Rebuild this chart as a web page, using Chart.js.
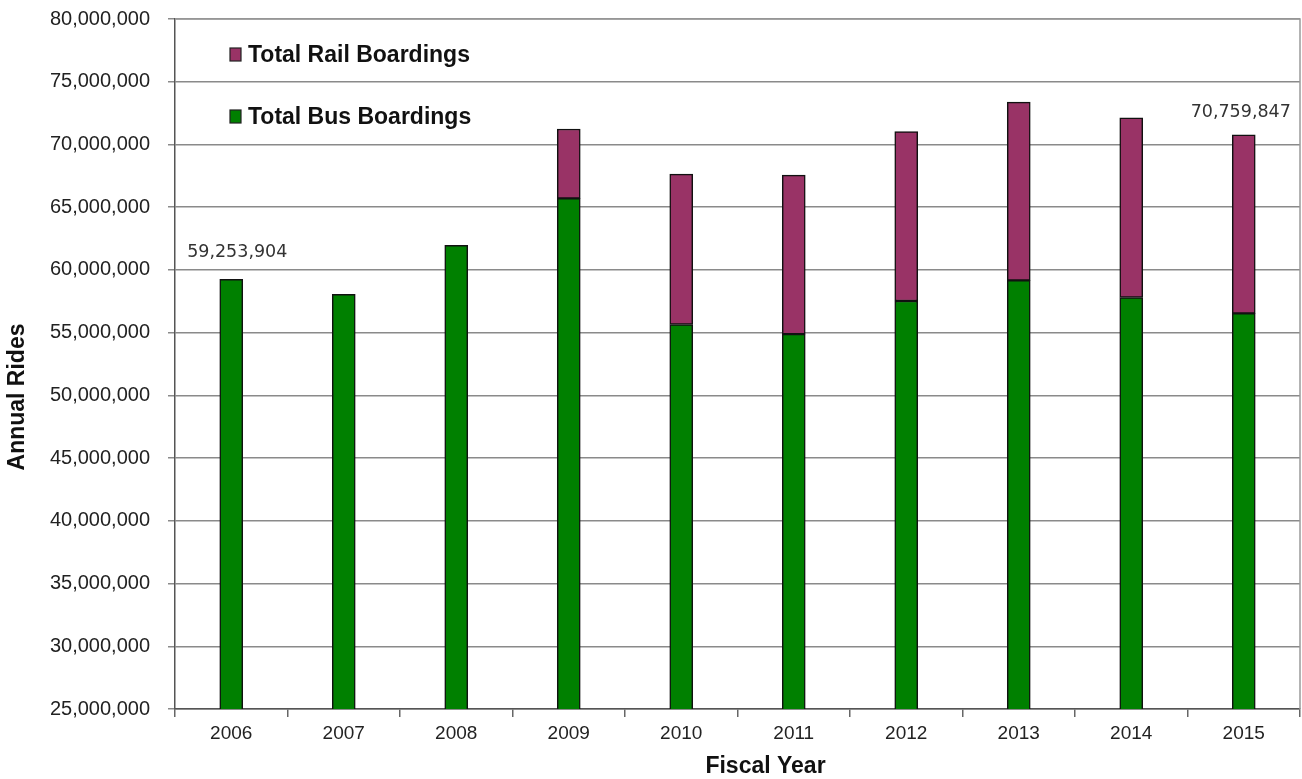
<!DOCTYPE html>
<html>
<head>
<meta charset="utf-8">
<script src="https://cdn.jsdelivr.net/npm/chart.js@4.4.1/dist/chart.umd.min.js"></script>
<style>
  html, body { margin: 0; padding: 0; background: #fff; }
  #wrap { width: 1302px; height: 779px; position: relative; }
</style>
</head>
<body>
<div id="wrap"><canvas id="c"></canvas></div>
<script>
const categories = ['2006','2007','2008','2009','2010','2011','2012','2013','2014','2015'];
const busBoardings  = [59253904, 58050000, 61950000, 65700000, 55650000, 54880000, 57520000, 59170000, 57800000, 56540000];
const railBoardings = [0, 0, 0, 5530000, 11990000, 12680000, 13500000, 14210000, 14330000, 14219847];
const labelledYears = ['2006', '2015'];
const yTicks = { min: 25000000, max: 80000000, step: 5000000 };
const xTitle = 'Fiscal Year';
const yTitle = 'Annual Rides';

const fmt = v => Math.round(v).toLocaleString('en-US');
const FONT = '"Liberation Sans", Arial, sans-serif';

const legendInside = {
  id: 'legendInside',
  afterDraw(chart) {
    const ctx = chart.ctx;
    const items = chart.data.datasets.slice().reverse();
    const x0 = 230, ys = [55, 117];
    ctx.save();
    items.forEach((ds, i) => {
      const y = ys[i];
      ctx.fillStyle = ds.backgroundColor;
      ctx.strokeStyle = '#222';
      ctx.lineWidth = 1.2;
      ctx.fillRect(x0, y - 7, 11, 13);
      ctx.strokeRect(x0, y - 7, 11, 13);
      ctx.fillStyle = '#111';
      ctx.font = 'bold 23px ' + FONT;
      ctx.textBaseline = 'middle';
      ctx.textAlign = 'left';
      ctx.fillText(ds.label, x0 + 18, y + 1);
    });
    ctx.restore();
  }
};

const axisTitles = {
  id: 'axisTitles',
  afterDraw(chart) {
    const ctx = chart.ctx;
    const a = chart.chartArea;
    ctx.save();
    ctx.fillStyle = '#111';
    ctx.font = 'bold 23px ' + FONT;
    ctx.textAlign = 'center';
    ctx.textBaseline = 'middle';
    ctx.fillText(xTitle, (a.left + a.right) / 2 + 28, a.bottom + 58);
    ctx.translate(18, (a.top + a.bottom) / 2 + 33);
    ctx.rotate(-Math.PI / 2);
    ctx.fillText(yTitle, 0, 0);
    ctx.restore();
  }
};

const totalsLabels = {
  id: 'totalsLabels',
  afterDatasetsDraw(chart) {
    const ctx = chart.ctx;
    const xs = chart.scales.x, ys = chart.scales.y;
    ctx.save();
    ctx.font = '17.5px "DejaVu Sans", sans-serif';
    ctx.fillStyle = '#333';
    ctx.textAlign = 'center';
    ctx.textBaseline = 'middle';
    labelledYears.forEach(yr => {
      const i = categories.indexOf(yr);
      const total = busBoardings[i] + railBoardings[i];
      const x = xs.getPixelForValue(i);
      const y = ys.getPixelForValue(total);
      ctx.fillText(fmt(total), x + (i === 0 ? 6 : -3), y - (i === 0 ? 27 : 22));
    });
    ctx.restore();
  }
};

const frame = {
  id: 'frame',
  beforeDatasetsDraw(chart) {
    const a = chart.chartArea, ctx = chart.ctx;
    ctx.save();
    ctx.strokeStyle = '#9a9a9a';
    ctx.lineWidth = 1.5;
    ctx.beginPath();
    ctx.moveTo(a.left, a.top);
    ctx.lineTo(a.right, a.top);
    ctx.lineTo(a.right, a.bottom);
    ctx.stroke();
    ctx.restore();
  }
};

new Chart(document.getElementById('c'), {
  type: 'bar',
  data: {
    labels: categories,
    datasets: [
      { label: 'Total Bus Boardings', data: busBoardings, backgroundColor: '#008000',
        borderColor: '#111', borderWidth: 1.5, barThickness: 23, borderSkipped: false },
      { label: 'Total Rail Boardings', data: railBoardings, backgroundColor: '#993366',
        borderColor: '#111', borderWidth: 1.5, barThickness: 23, borderSkipped: false }
    ]
  },
  options: {
    responsive: true,
    maintainAspectRatio: false,
    animation: false,
    layout: { padding: { top: 19, right: 2, left: 0, bottom: 0 } },
    plugins: { legend: { display: false }, tooltip: { enabled: false } },
    scales: {
      x: {
        stacked: true,
        afterFit(s) { s.height = 70; s.paddingLeft = 0; s.paddingRight = 0; },
        grid: { offset: true, drawOnChartArea: false, drawTicks: true, tickLength: 8, color: '#666', lineWidth: 1.5 },
        border: { display: true, color: '#555', width: 1.5 },
        ticks: { color: '#222', padding: 5, font: { family: FONT, size: 19 } },
        title: { display: false }
      },
      y: {
        stacked: true,
        min: yTicks.min, max: yTicks.max,
        afterFit(s) { s.width = 175; s.paddingTop = 0; s.paddingBottom = 0; },
        grid: { color: '#8a8a8a', lineWidth: 1.5, tickLength: 7, drawTicks: true },
        border: { display: true, color: '#555', width: 1.5 },
        ticks: { stepSize: yTicks.step, color: '#222', padding: 18, callback: v => fmt(v),
                 font: { family: FONT, size: 20 } },
        title: { display: false }
      }
    }
  },
  plugins: [frame, totalsLabels, legendInside, axisTitles]
});
</script>
</body>
</html>
